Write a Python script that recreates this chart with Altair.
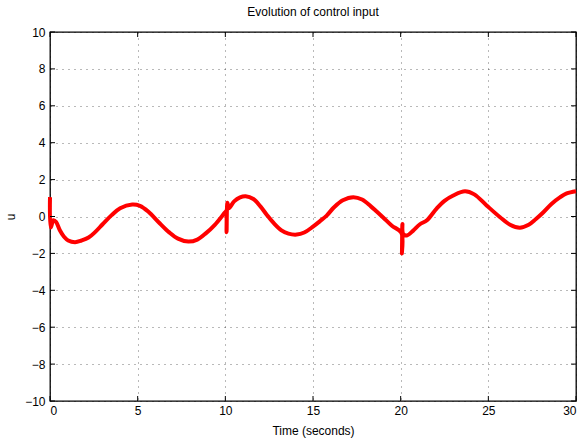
import altair as alt
import pandas as pd

# time (s) and control input u
time_s = [0.0, 0.04, 0.2, 0.35, 0.57, 0.8, 1.04, 1.43, 1.8, 2.2, 2.6, 3.0, 3.5, 4.0,
          4.69, 5.13, 5.6, 6.27, 6.8, 7.3, 7.89, 8.4, 8.9, 9.4, 9.98,
          10.04, 10.07, 10.12, 10.2, 10.5, 10.84, 11.16, 11.6, 12.0, 12.36, 12.8, 13.2,
          13.6, 14.07, 14.5, 15.0, 15.4, 15.78, 16.2, 16.7, 17.3, 17.8, 18.3, 18.6,
          19.0, 19.5, 20.04,
          20.07, 20.1, 20.14, 20.35, 20.7, 21.1, 21.5, 22.05, 22.5, 23.0, 23.67, 24.2,
          24.9, 25.67, 26.24, 26.8, 27.3, 27.7, 28.14, 28.6, 29.1, 29.47, 30.0]
u_vals = [1.05, -0.6, -0.2, -0.3, -0.76, -1.1, -1.3, -1.39, -1.3, -1.14, -0.82, -0.42, 0.06, 0.45,
          0.65, 0.58, 0.27, -0.38, -0.86, -1.2, -1.36, -1.25, -0.9, -0.45, 0.22,
          0.28, -0.85, 0.75, 0.45, 0.82, 1.04, 1.1, 0.95, 0.55, 0.1, -0.4, -0.75,
          -0.93, -0.98, -0.87, -0.55, -0.25, 0.05, 0.5, 0.88, 1.05, 0.92, 0.55, 0.3,
          -0.05, -0.5, -0.88,
          -2.0, -0.4, -0.95, -1.03, -0.78, -0.42, -0.2, 0.43, 0.85, 1.14, 1.37, 1.2,
          0.6, -0.04, -0.45, -0.61, -0.45, -0.15, 0.23, 0.68, 1.05, 1.25, 1.37]

x_ticks = [0, 5, 10, 15, 20, 25, 30]
y_ticks = [-10, -8, -6, -4, -2, 0, 2, 4, 6, 8, 10]

W, H = 526, 369
FONT = "Liberation Sans"

df = pd.DataFrame({"t": time_s, "u": u_vals})
xt = pd.DataFrame({"t": x_ticks})
yt = pd.DataFrame({"u": y_ticks})

xscale = alt.Scale(domain=[0, 30], nice=False, zero=False)
yscale = alt.Scale(domain=[-10, 10], nice=False, zero=False)
xaxis = alt.Axis(values=x_ticks, format="d", labelPadding=4, titlePadding=9)
yaxis = alt.Axis(values=y_ticks, format="d", labelPadding=5, titlePadding=7)

line = alt.Chart(df).mark_line(color="#ff0000", strokeWidth=4, interpolate="catmull-rom").encode(
    x=alt.X("t:Q", scale=xscale, title="Time (seconds)", axis=xaxis),
    y=alt.Y("u:Q", scale=yscale, title="u", axis=yaxis),
)

left = alt.Chart(yt).mark_rule(color="black", strokeWidth=1).encode(
    y=alt.Y("u:Q", scale=yscale, title="u", axis=yaxis), x=alt.value(0), x2=alt.value(5))
right = alt.Chart(yt).mark_rule(color="black", strokeWidth=1).encode(
    y=alt.Y("u:Q", scale=yscale, title="u", axis=yaxis), x=alt.value(W - 5), x2=alt.value(W))
bottom = alt.Chart(xt).mark_rule(color="black", strokeWidth=1).encode(
    x=alt.X("t:Q", scale=xscale, title="Time (seconds)", axis=xaxis), y=alt.value(H - 5), y2=alt.value(H))
top = alt.Chart(xt).mark_rule(color="black", strokeWidth=1).encode(
    x=alt.X("t:Q", scale=xscale, title="Time (seconds)", axis=xaxis), y=alt.value(0), y2=alt.value(5))

chart = alt.layer(line, left, right, bottom, top).properties(
    width=W, height=H,
    background="white",
    title=alt.TitleParams("Evolution of control input", fontSize=12, fontWeight="normal",
                          font=FONT, color="black", offset=7, anchor="middle"),
    autosize=alt.AutoSizeParams(type="none"),
    padding={"left": 50, "top": 32, "right": 10, "bottom": 44},
).configure_view(
    stroke="black", strokeWidth=1.3
).configure_axis(
    labelFont=FONT, labelFontSize=12, labelColor="black",
    titleFont=FONT, titleFontSize=12, titleFontWeight="normal", titleColor="black",
    ticks=False, domain=False,
    grid=True, gridColor="black", gridOpacity=0.55, gridDash=[1, 5], gridWidth=1,
)

chart.save("out.html", embed_options={"renderer": "svg", "actions": False})
